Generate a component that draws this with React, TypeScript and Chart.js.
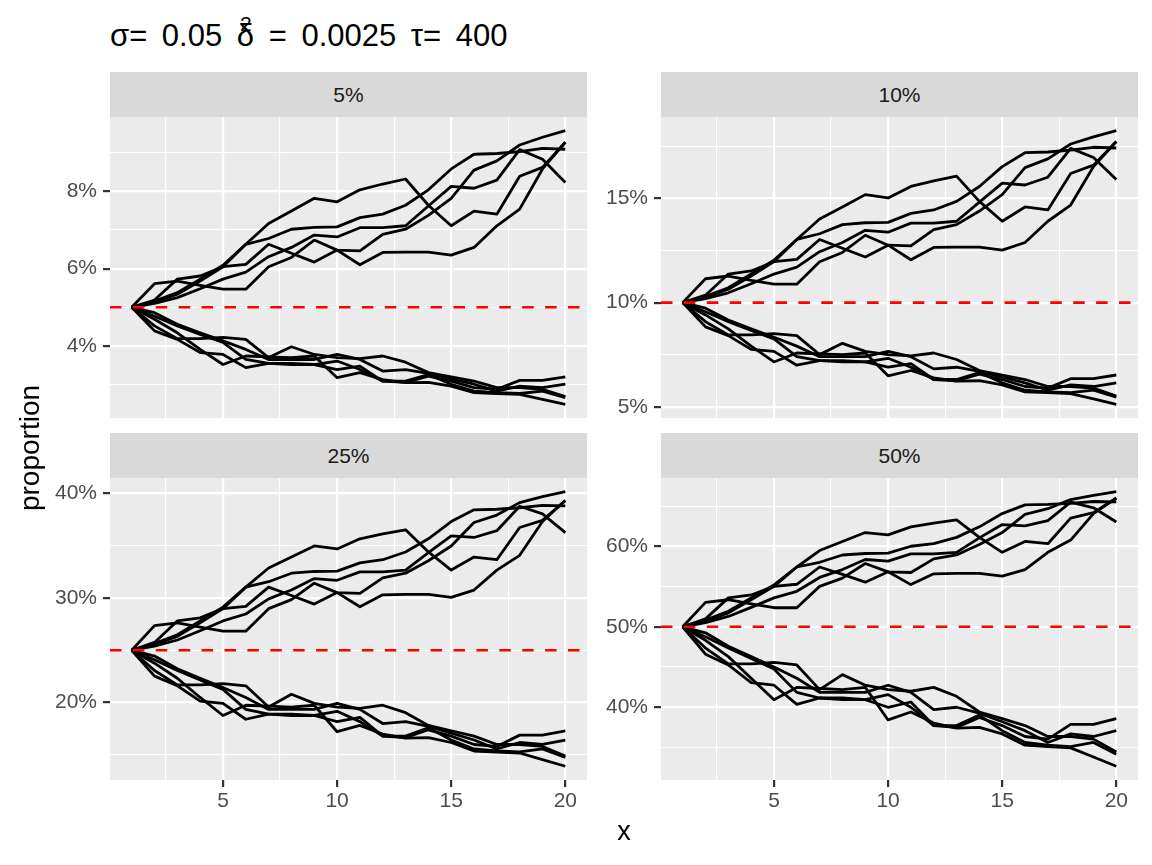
import React, { useEffect, useRef } from 'react';
import { Chart, registerables } from 'chart.js';

Chart.register(...registerables);

// ---------------- data ----------------
const xs = [1, 2, 3, 4, 5, 6, 7, 8, 9, 10, 11, 12, 13, 14, 15, 16, 17, 18, 19, 20];

// paths read off the 5% facet (values in %); the other facets show the same
// simulated paths on the logit scale around their own starting proportion
const up1 = [5.00, 5.14, 5.34, 5.68, 6.05, 6.63, 7.17, 7.49, 7.82, 7.73, 8.04, 8.19, 8.32, 7.64, 7.11, 7.49, 7.41, 8.39, 8.62, 9.27];
const up2 = [5.00, 5.16, 5.38, 5.73, 6.09, 6.63, 6.78, 7.02, 7.07, 7.08, 7.32, 7.41, 7.64, 8.04, 8.58, 8.96, 8.98, 9.03, 9.11, 9.09];
const up3 = [5.00, 5.10, 5.25, 5.48, 5.73, 5.91, 6.31, 6.55, 6.87, 6.82, 7.06, 7.06, 7.11, 7.62, 8.13, 8.08, 8.29, 9.08, 8.83, 8.23];
const up4 = [5.00, 5.19, 5.73, 5.81, 6.05, 6.11, 6.63, 6.40, 6.17, 6.48, 6.10, 6.42, 6.43, 6.43, 6.35, 6.55, 7.11, 7.54, 8.58, 9.27];
const up5 = [5.00, 5.61, 5.68, 5.57, 5.47, 5.47, 6.05, 6.29, 6.74, 6.48, 6.46, 6.89, 7.02, 7.38, 7.82, 8.55, 8.79, 9.20, 9.40, 9.57];
const down1 = [5.00, 4.52, 4.19, 4.19, 4.22, 4.17, 3.70, 3.98, 3.78, 3.70, 3.67, 3.74, 3.58, 3.31, 3.20, 3.09, 2.92, 2.92, 2.88, 2.69];
const down2 = [5.00, 4.39, 4.17, 3.83, 3.78, 3.44, 3.55, 3.55, 3.52, 3.39, 3.48, 3.09, 3.06, 3.22, 3.09, 2.92, 2.88, 3.11, 3.11, 3.20];
const down3 = [5.00, 4.69, 4.34, 3.91, 3.52, 3.74, 3.72, 3.70, 3.74, 3.18, 3.31, 3.13, 3.05, 3.06, 2.96, 2.79, 2.77, 2.75, 2.62, 2.49];
const down4 = [5.00, 4.86, 4.56, 4.34, 4.13, 3.91, 3.65, 3.65, 3.65, 3.78, 3.65, 3.35, 3.39, 3.29, 3.15, 3.01, 2.83, 2.96, 2.92, 3.01];
const down5 = [5.00, 4.77, 4.52, 4.30, 4.09, 3.65, 3.55, 3.52, 3.52, 3.61, 3.39, 3.09, 3.09, 3.26, 3.01, 2.83, 2.79, 2.77, 2.83, 2.66];
const paths = [up1, up2, up3, up4, up5, down1, down2, down3, down4, down5];
const readBase = 5;

const facetLabels = ['5%', '10%', '25%', '50%'];
const facetBases = [5, 10, 25, 50];

const yMajorTicks = [[4, 6, 8], [5, 10, 15], [20, 30, 40], [40, 50, 60]];
const yMinorTicks = [[3, 5, 7, 9], [2.5, 7.5, 12.5, 17.5], [15, 25, 35, 45], [35, 45, 55, 65]];
const xMajorTicks = [5, 10, 15, 20];
const xMinorTicks = [2.5, 7.5, 12.5, 17.5];

const xTitle = 'x';
const yTitle = 'proportion';

// ---------------- layout ----------------
const FONT = '"Liberation Sans", Arial, Helvetica, sans-serif';
const TICK_FONT = 21;
const Y_AXIS_W = 80;
const PAD = 10;
const X_AXIS_H = 45;
const panelGeom = [
  { left: 110, top: 117, width: 477, height: 301, stripTop: 72, xAxis: false },
  { left: 661, top: 117, width: 477, height: 301, stripTop: 72, xAxis: false },
  { left: 110, top: 478, width: 477, height: 302, stripTop: 433, xAxis: true },
  { left: 661, top: 478, width: 477, height: 302, stripTop: 433, xAxis: true },
];

const logit = (p: number) => Math.log(p / (1 - p));
const invLogit = (z: number) => 1 / (1 + Math.exp(-z));
const toFacet = (v: number, base: number) =>
  100 * invLogit(logit(base / 100) + logit(v / 100) - logit(readBase / 100));

const panelBg = {
  id: 'panelBg',
  beforeDraw(chart: any) {
    const { ctx, chartArea: a } = chart;
    ctx.save();
    ctx.fillStyle = '#EBEBEB';
    ctx.fillRect(a.left, a.top, a.right - a.left, a.bottom - a.top);
    ctx.restore();
  },
};

const refLine = {
  id: 'refLine',
  afterDatasetsDraw(chart: any, _args: any, opts: any) {
    const { ctx, chartArea: a } = chart;
    const y = chart.scales.y.getPixelForValue(opts.value);
    ctx.save();
    ctx.beginPath();
    ctx.rect(a.left, a.top, a.right - a.left, a.bottom - a.top);
    ctx.clip();
    ctx.strokeStyle = '#FF0000';
    ctx.lineWidth = 2.6;
    ctx.setLineDash([11.5, 11.4]);
    ctx.beginPath();
    ctx.moveTo(a.left, y);
    ctx.lineTo(a.right, y);
    ctx.stroke();
    ctx.restore();
  },
};

function Panel({ idx }: { idx: number }) {
  const ref = useRef<HTMLCanvasElement | null>(null);
  const g = panelGeom[idx];
  const cw = Y_AXIS_W + g.width + PAD;
  const ch = PAD + g.height + (g.xAxis ? X_AXIS_H : 0) + PAD;

  useEffect(() => {
    if (!ref.current) return;
    const base = facetBases[idx];
    const series = paths.map((p) => p.map((v) => toFacet(v, base)));
    const all = series.flat().concat([base]);
    const lo0 = Math.min(...all);
    const hi0 = Math.max(...all);
    const yLo = lo0 - 0.05 * (hi0 - lo0);
    const yHi = hi0 + 0.05 * (hi0 - lo0);
    const xLo = xs[0] - 0.05 * (xs[xs.length - 1] - xs[0]);
    const xHi = xs[xs.length - 1] + 0.05 * (xs[xs.length - 1] - xs[0]);
    const yMaj = yMajorTicks[idx];
    const yTicks = [...yMaj, ...yMinorTicks[idx]].filter((v) => v >= yLo && v <= yHi).sort((a, b) => a - b);
    const xTicks = [...xMajorTicks, ...xMinorTicks].sort((a, b) => a - b);
    const isMajY = (v: number) => yMaj.includes(v);
    const isMajX = (v: number) => xMajorTicks.includes(v);

    const chart = new Chart(ref.current, {
      type: 'line',
      data: {
        datasets: series.map((s) => ({
          data: s.map((y, i) => ({ x: xs[i], y })),
          borderColor: '#000000',
          borderWidth: 2.8,
          pointRadius: 0,
          fill: false,
          tension: 0,
          borderJoinStyle: 'round',
        })),
      },
      options: {
        animation: false,
        responsive: false,
        events: [],
        layout: { padding: { top: PAD, right: PAD, bottom: PAD, left: 0 } },
        plugins: {
          legend: { display: false },
          tooltip: { enabled: false },
          refLine: { value: base },
        } as any,
        scales: {
          x: {
            type: 'linear',
            min: xLo,
            max: xHi,
            bounds: 'data',
            afterBuildTicks: (s: any) => {
              s.ticks = xTicks.map((v) => ({ value: v }));
            },
            afterFit: (s: any) => {
              s.height = g.xAxis ? X_AXIS_H : 0;
              s.paddingLeft = 0;
              s.paddingRight = 0;
            },
            border: { display: false },
            grid: {
              color: '#FFFFFF',
              lineWidth: (c: any) => (c.tick && isMajX(c.tick.value) ? 2.2 : 1.1),
              drawTicks: g.xAxis,
              tickLength: 7,
              tickWidth: 2.2,
              tickColor: (c: any) => (c.tick && isMajX(c.tick.value) ? '#333333' : 'rgba(0,0,0,0)'),
            },
            ticks: {
              display: g.xAxis,
              autoSkip: false,
              maxRotation: 0,
              padding: 2,
              color: '#4D4D4D',
              font: { family: FONT, size: TICK_FONT },
              callback: (v: any) => (isMajX(Number(v)) ? String(v) : ''),
            },
          },
          y: {
            type: 'linear',
            min: yLo,
            max: yHi,
            bounds: 'data',
            afterBuildTicks: (s: any) => {
              s.ticks = yTicks.map((v) => ({ value: v }));
            },
            afterFit: (s: any) => {
              s.width = Y_AXIS_W;
              s.paddingTop = 0;
              s.paddingBottom = 0;
            },
            border: { display: false },
            grid: {
              color: '#FFFFFF',
              lineWidth: (c: any) => (c.tick && isMajY(c.tick.value) ? 2.2 : 1.1),
              drawTicks: true,
              tickLength: 7,
              tickWidth: 2.2,
              tickColor: (c: any) => (c.tick && isMajY(c.tick.value) ? '#333333' : 'rgba(0,0,0,0)'),
            },
            ticks: {
              autoSkip: false,
              padding: 6,
              color: '#4D4D4D',
              font: { family: FONT, size: TICK_FONT },
              callback: (v: any) => (isMajY(Number(v)) ? `${v}%` : ''),
            },
          },
        },
      } as any,
      plugins: [panelBg, refLine],
    });
    return () => chart.destroy();
  }, [idx]);

  return (
    <>
      <div
        style={{
          position: 'absolute',
          left: g.left,
          top: g.stripTop,
          width: g.width,
          height: g.top - g.stripTop,
          background: '#D9D9D9',
          color: '#1A1A1A',
          font: `${TICK_FONT}px ${FONT}`,
          lineHeight: `${g.top - g.stripTop}px`,
          textAlign: 'center',
        }}
      >
        {facetLabels[idx]}
      </div>
      <canvas
        ref={ref}
        width={cw}
        height={ch}
        style={{
          position: 'absolute',
          left: g.left - Y_AXIS_W,
          top: g.top - PAD,
          width: cw,
          height: ch,
        }}
      />
    </>
  );
}

export default function App() {
  return (
    <div
      style={{
        position: 'absolute',
        left: 0,
        top: 0,
        width: 1152,
        height: 865,
        background: '#FFFFFF',
        overflow: 'hidden',
        fontFamily: FONT,
      }}
    >
      <div
        style={{
          position: 'absolute',
          left: 110,
          top: 16,
          font: `31px ${FONT}`,
          color: '#000000',
          whiteSpace: 'nowrap',
          lineHeight: '40px',
          wordSpacing: 6,
        }}
      >
        σ= 0.05 δ
        <span style={{ display: 'inline-block', width: 0, position: 'relative', left: -14, top: -15, fontSize: 21 }}>2</span>
        {' = 0.0025 τ= 400'}
      </div>
      {[0, 1, 2, 3].map((i) => (
        <Panel key={i} idx={i} />
      ))}
      <div
        style={{
          position: 'absolute',
          left: 624 - 50,
          top: 816,
          width: 100,
          textAlign: 'center',
          font: `27px ${FONT}`,
          color: '#000000',
        }}
      >
        {xTitle}
      </div>
      <div
        style={{
          position: 'absolute',
          left: 30 - 100,
          top: 448 - 16,
          width: 200,
          height: 32,
          lineHeight: '32px',
          textAlign: 'center',
          transform: 'rotate(-90deg)',
          font: `28px ${FONT}`,
          color: '#000000',
        }}
      >
        {yTitle}
      </div>
    </div>
  );
}
